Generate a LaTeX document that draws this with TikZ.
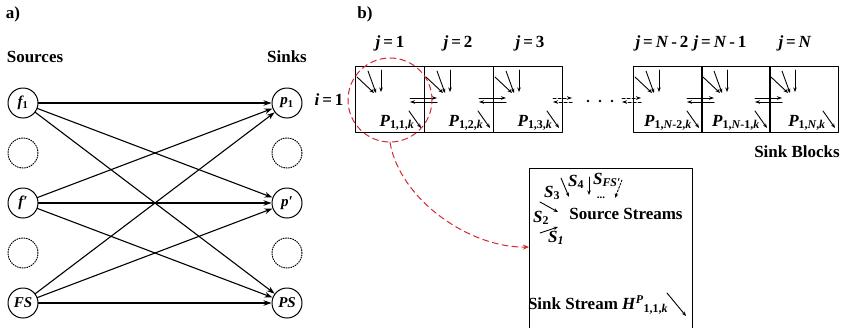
\documentclass[tikz,border=0pt]{standalone}
\usepackage{fontspec}
\setmainfont{Liberation Serif}
\usetikzlibrary{arrows.meta,positioning}
\definecolor{linkred}{RGB}{208,42,48}

\tikzset{
  big/.style={font=\fontsize{17}{20}\selectfont\bfseries},
  bigit/.style={font=\fontsize{17}{20}\selectfont\bfseries\itshape},
  node circ/.style={circle,draw,line width=1pt,minimum size=30pt,inner sep=0pt,
    font=\fontsize{15}{18}\selectfont\bfseries\itshape},
  ghost/.style={circle,draw,line width=1pt,dash pattern=on 1pt off 1.4pt,
    minimum size=30pt,inner sep=0pt},
  flow/.style={line width=1.1pt,-{Stealth[length=8pt,width=5.5pt]}},
  feed/.style={line width=0.9pt,-{Stealth[length=4.5pt,width=3.5pt]}},
  swap/.style={line width=1pt,-{Stealth[length=5pt,width=3.5pt]}},
  blockbox/.style={draw,line width=0.9pt,minimum width=69pt,minimum height=66pt,
    inner sep=0pt,anchor=north west},
}

\begin{document}
\begin{tikzpicture}[x=1pt,y=-1pt,line cap=round,line join=round]
  \useasboundingbox (0,0) rectangle (843,327);

  % a) sources and sinks
  \node[big] (tagA) at (13,14) {a)};
  \node[big] (srcT) at (35,57) {Sources};
  \node[big] (snkT) at (287,57) {Sinks};
  \node[node circ] (f1) at (23,103) {f\textsubscript{\upshape 1}};
  \node[ghost]     (g1) at (23,153) {};
  \node[node circ] (fp) at (23,203) {f′};
  \node[ghost]     (g2) at (23,253) {};
  \node[node circ] (FS) at (23,303) {FS};
  \node[node circ] (p1) at (287,103) {p\textsubscript{\upshape 1}};
  \node[ghost]     (g3) at (287,153) {};
  \node[node circ] (pp) at (287,203) {p′};
  \node[ghost]     (g4) at (287,253) {};
  \node[node circ] (PS) at (287,303) {PS};
  \foreach \s in {f1,fp,FS}
    \foreach \t in {p1,pp,PS}
      \draw[flow] (\s) -- (\t);

  % b) sink blocks
  \node[big] (tagB) at (365,14) {b)};
  \node[big] (rowT) at (329,100) {\textit{i}\,=\,1};
  \node[big] (j1) at (390,43) {\textit{j}\,=\,1};
  \node[big] (j2) at (458,43) {\textit{j}\,=\,2};
  \node[big] (j3) at (530,43) {\textit{j}\,=\,3};
  \node[big] (jN2) at (662,43) {\textit{j}\,=\,\textit{N}\,-\,2};
  \node[big] (jN1) at (720,43) {\textit{j}\,=\,\textit{N}\,-\,1};
  \node[big] (jN) at (795,43) {\textit{j}\,=\,\textit{N}};
  \foreach \x/\idx/\dx [count=\n] in {355/{1,1,\textit{k}}/42, 424/{1,2,\textit{k}}/42,
      493/{1,3,\textit{k}}/42, 633/{1,\textit{N}-2,\textit{k}}/35,
      701/{1,\textit{N}-1,\textit{k}}/35, 769/{1,\textit{N},\textit{k}}/38} {
    \node[blockbox] (blk\n) at (\x,66) {};
    \draw[feed] ({\x+2},77) -- ({\x+19},93);
    \draw[feed] ({\x+13},71) -- ({\x+21},93);
    \draw[feed] ({\x+26},70) -- ({\x+26},92);
    \node[bigit] (lab\n) at ({\x+\dx},123) {P\textsubscript{\upshape\idx}};
    \draw[feed] ({\x+54},111) -- ({\x+66},128);
  }
  \foreach \b in {424,493,701,769} {
    \draw[swap] ({\b-14},98) -- ({\b+13},98);
    \draw[swap] ({\b+13},102) -- ({\b-14},102);
  }
  \foreach \b in {563,632} {
    \draw[swap,dashed,dash pattern=on 3pt off 2pt] ({\b-10},98) -- ({\b+9},98);
    \draw[swap,dashed,dash pattern=on 3pt off 2pt] ({\b+9},102) -- ({\b-10},102);
  }
  \foreach \x in {588,600,612}
    \fill (\x,101) circle[radius=1.4];
  \node[big] (sinkT) at (797,152) {Sink Blocks};

  % zoomed block
  \node[circle,draw=linkred,dashed,dash pattern=on 6pt off 4pt,line width=1pt,
    minimum size=84pt] (ring) at (390,100) {};
  \draw[line width=1pt] (529,330) -- (529,168) -- (692,168) -- (692,330);
  \coordinate (boxin) at (529,247);
  \draw[linkred,line width=1pt,dash pattern=on 6pt off 4pt,-{Stealth[length=6pt,width=5pt]}]
    (ring.south) .. controls (400,200) and (470,248) .. (boxin);

  \node[bigit] (s3) at (552,193) {S\textsubscript{\upshape 3}};
  \node[bigit] (s4) at (576,182) {S\textsubscript{\upshape 4}};
  \node[bigit,inner sep=0.5pt] (sfs) at (607,180) {S\textsubscript{FS′}};
  \node[font=\fontsize{11}{12}\selectfont\bfseries,inner sep=0pt] (more) at (601,198) {...};
  \node[bigit] (s2) at (541,218) {S\textsubscript{\upshape 2}};
  \node[bigit] (s1) at (556,238) {S\textsubscript{1}};
  \node[big] (srcS) at (626,214) {Source Streams};
  \draw[feed] (561,178) -- (569,197);
  \draw[feed] (589,177) -- (589,195);
  \draw[feed,dashed,dash pattern=on 2pt off 1.5pt] (622,180) -- (615,198);
  \draw[feed] (540,202) -- (558,212);
  \draw[feed] (540,233) -- (558,227);
  \node[big] (sinkS) at (598,305) {Sink Stream \textit{H}\textsuperscript{\textit{P}}\textsubscript{1,1,\textit{k}}};
  \draw[feed] (667,293) -- (686,316);
\end{tikzpicture}
\end{document}
